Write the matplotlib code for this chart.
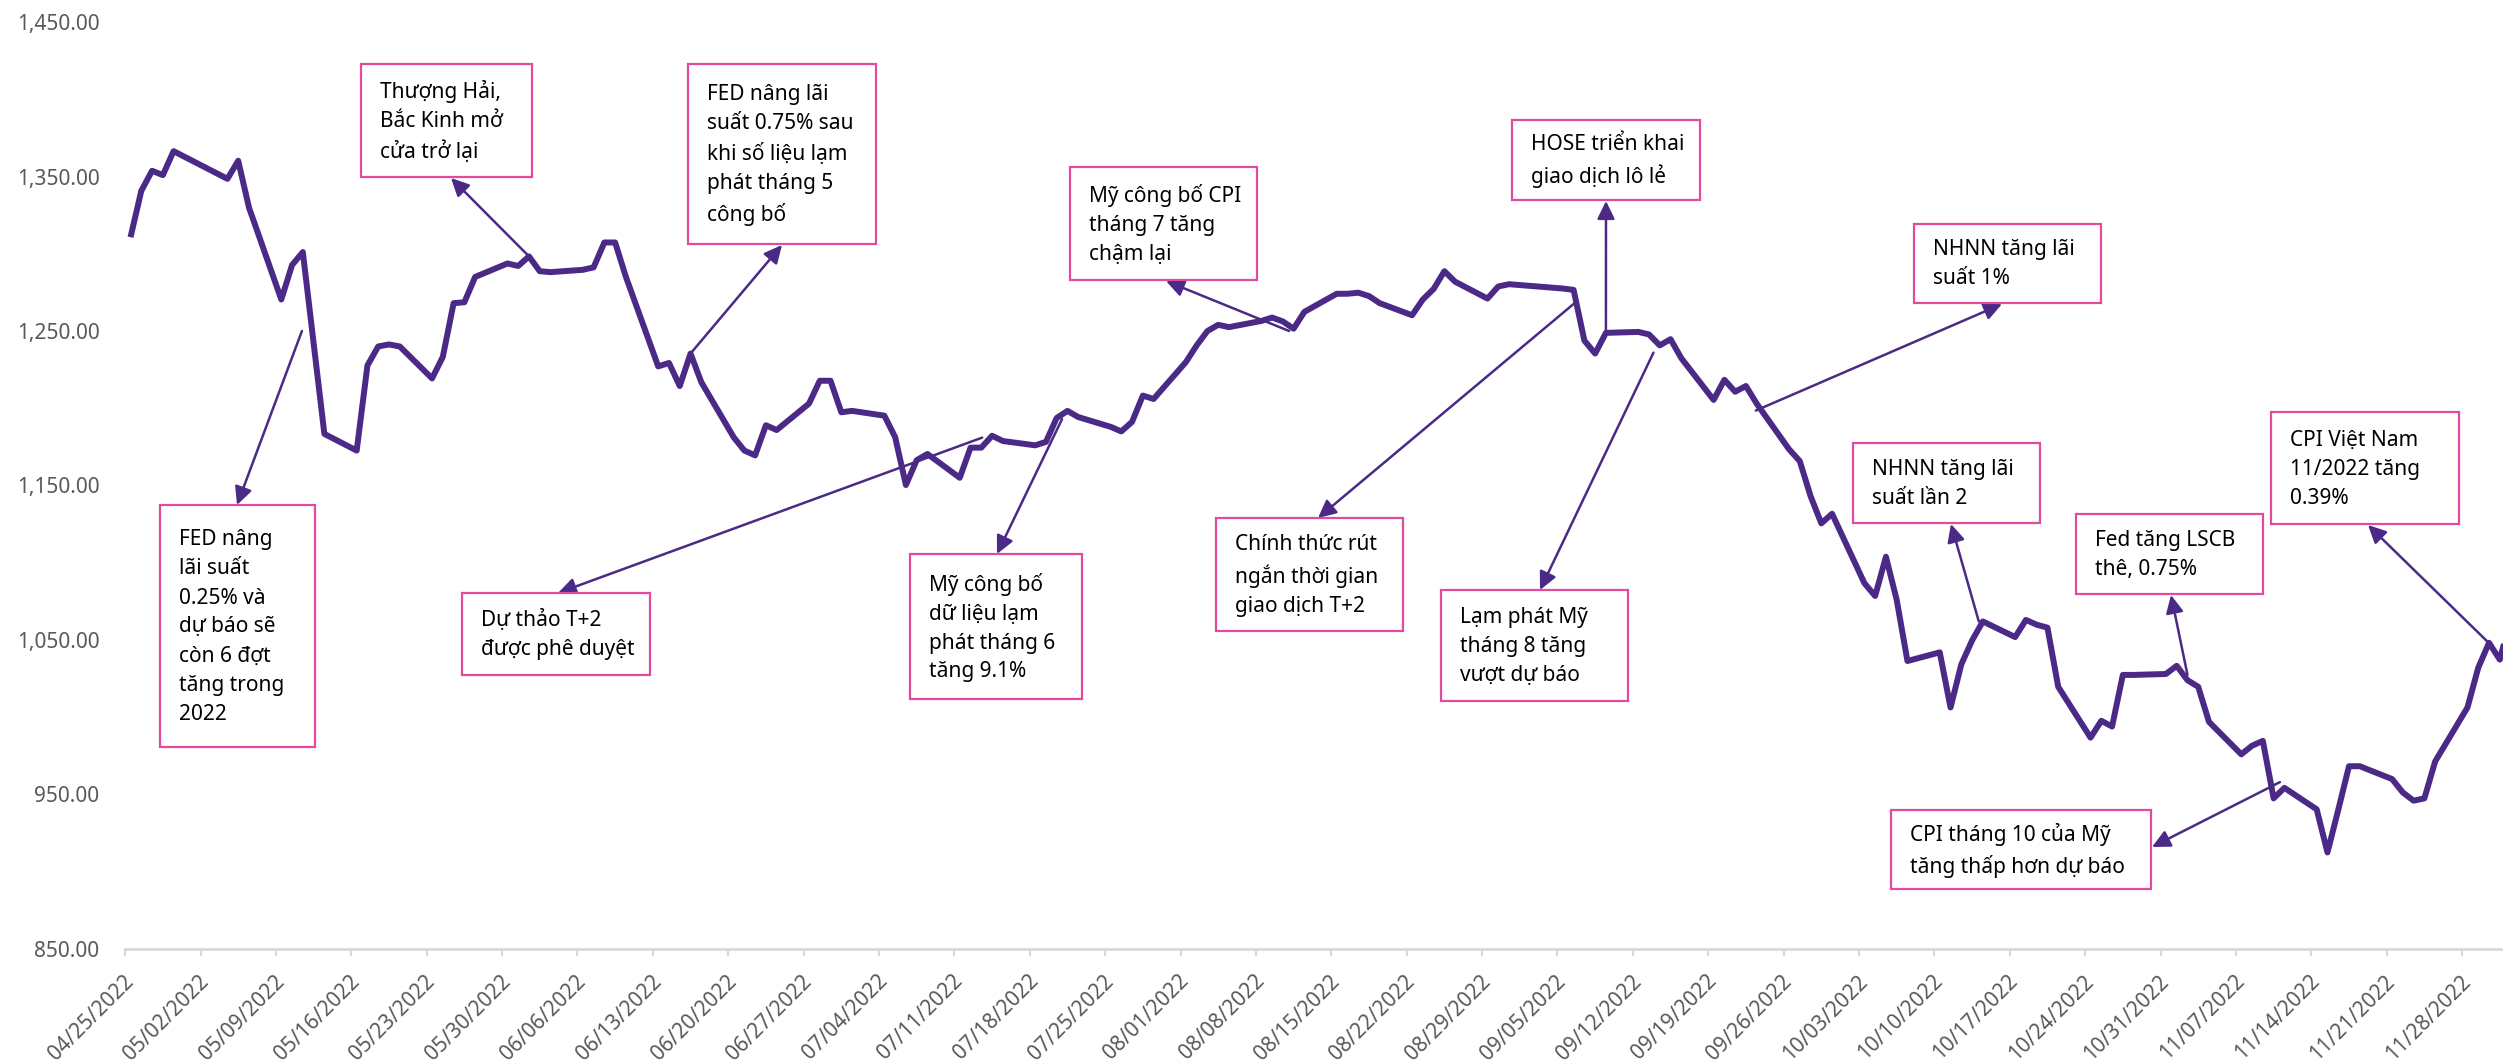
import matplotlib
matplotlib.use('Agg')
import matplotlib.pyplot as plt
import matplotlib.dates as mdates
import matplotlib.patches as mpatches
import matplotlib.ticker as mticker
import pandas as pd

plt.rcParams['font.family'] = ['Noto Sans', 'DejaVu Sans']

# ---------------- data ----------------
trade_dates = [
    "2022-04-25", "2022-04-26", "2022-04-27", "2022-04-28", "2022-04-29",
    "2022-05-04", "2022-05-05", "2022-05-06",
    "2022-05-09", "2022-05-10", "2022-05-11", "2022-05-12", "2022-05-13",
    "2022-05-16", "2022-05-17", "2022-05-18", "2022-05-19", "2022-05-20",
    "2022-05-23", "2022-05-24", "2022-05-25", "2022-05-26", "2022-05-27",
    "2022-05-30", "2022-05-31", "2022-06-01", "2022-06-02", "2022-06-03",
    "2022-06-06", "2022-06-07", "2022-06-08", "2022-06-09", "2022-06-10",
    "2022-06-13", "2022-06-14", "2022-06-15", "2022-06-16", "2022-06-17",
    "2022-06-20", "2022-06-21", "2022-06-22", "2022-06-23", "2022-06-24",
    "2022-06-27", "2022-06-28", "2022-06-29", "2022-06-30", "2022-07-01",
    "2022-07-04", "2022-07-05", "2022-07-06", "2022-07-07", "2022-07-08",
    "2022-07-11", "2022-07-12", "2022-07-13", "2022-07-14", "2022-07-15",
    "2022-07-18", "2022-07-19", "2022-07-20", "2022-07-21", "2022-07-22",
    "2022-07-25", "2022-07-26", "2022-07-27", "2022-07-28", "2022-07-29",
    "2022-08-01", "2022-08-02", "2022-08-03", "2022-08-04", "2022-08-05",
    "2022-08-08", "2022-08-09", "2022-08-10", "2022-08-11", "2022-08-12",
    "2022-08-15", "2022-08-16", "2022-08-17", "2022-08-18", "2022-08-19",
    "2022-08-22", "2022-08-23", "2022-08-24", "2022-08-25", "2022-08-26",
    "2022-08-29", "2022-08-30", "2022-08-31",
    "2022-09-05", "2022-09-06", "2022-09-07", "2022-09-08", "2022-09-09",
    "2022-09-12", "2022-09-13", "2022-09-14", "2022-09-15", "2022-09-16",
    "2022-09-19", "2022-09-20", "2022-09-21", "2022-09-22", "2022-09-23",
    "2022-09-26", "2022-09-27", "2022-09-28", "2022-09-29", "2022-09-30",
    "2022-10-03", "2022-10-04", "2022-10-05", "2022-10-06", "2022-10-07",
    "2022-10-10", "2022-10-11", "2022-10-12", "2022-10-13", "2022-10-14",
    "2022-10-17", "2022-10-18", "2022-10-19", "2022-10-20", "2022-10-21",
    "2022-10-24", "2022-10-25", "2022-10-26", "2022-10-27", "2022-10-28",
    "2022-10-31", "2022-11-01", "2022-11-02", "2022-11-03", "2022-11-04",
    "2022-11-07", "2022-11-08", "2022-11-09", "2022-11-10", "2022-11-11",
    "2022-11-14", "2022-11-15", "2022-11-16", "2022-11-17", "2022-11-18",
    "2022-11-21", "2022-11-22", "2022-11-23", "2022-11-24", "2022-11-25",
    "2022-11-28", "2022-11-29", "2022-11-30", "2022-12-01", "2022-12-02",
]
vnindex = [
    1310.7, 1340.7, 1353.7, 1350.9, 1366.4,
    1348.5, 1360.2, 1329.9,
    1270.4, 1292.7, 1301.1, 1242.0, 1183.4,
    1172.6, 1227.7, 1240.0, 1241.3, 1240.0,
    1219.3, 1233.3, 1268.0, 1268.6, 1285.0,
    1293.7, 1292.1, 1298.3, 1288.7, 1288.1,
    1289.6, 1291.2, 1307.3, 1307.3, 1285.0,
    1227.1, 1229.3, 1214.4, 1235.4, 1216.9,
    1181.3, 1172.6, 1169.5, 1189.0, 1185.9,
    1203.0, 1217.8, 1217.8, 1197.4, 1198.3,
    1195.2, 1181.3, 1150.3, 1166.4, 1170.4,
    1155.0, 1174.5, 1174.5, 1182.2, 1178.8,
    1176.0, 1178.2, 1193.7, 1198.3, 1194.3,
    1188.0, 1185.0, 1191.2, 1208.2, 1206.0,
    1229.9, 1240.7, 1250.0, 1254.0, 1252.5,
    1256.5, 1258.7, 1256.2, 1251.5, 1262.4,
    1274.1, 1274.1, 1274.8, 1272.6, 1268.0,
    1260.2, 1270.4, 1277.2, 1288.7, 1281.9,
    1271.0, 1278.8, 1280.3,
    1277.5, 1276.6, 1243.8, 1235.4, 1248.8,
    1249.4, 1247.8, 1240.7, 1244.7, 1232.4,
    1205.4, 1218.4, 1210.7, 1214.4, 1203.0,
    1173.5, 1165.8, 1143.2, 1125.5, 1131.7,
    1086.8, 1078.5, 1103.9, 1076.0, 1036.4,
    1042.0, 1006.3, 1034.2, 1049.7, 1062.0,
    1051.9, 1063.0, 1059.9, 1058.0, 1019.7,
    986.8, 997.7, 994.0, 1027.4, 1027.4,
    1028.0, 1033.3, 1024.0, 1019.7, 997.0,
    976.0, 981.6, 984.7, 947.5, 954.3,
    940.4, 912.5, 940.0, 968.3, 968.3,
    960.0, 951.3, 946.0, 947.5, 971.4,
    1006.3, 1032.0, 1048.2, 1037.3, 1063.0,
]

tick_labels = [
    "04/25/2022", "05/02/2022", "05/09/2022", "05/16/2022", "05/23/2022",
    "05/30/2022", "06/06/2022", "06/13/2022", "06/20/2022", "06/27/2022",
    "07/04/2022", "07/11/2022", "07/18/2022", "07/25/2022", "08/01/2022",
    "08/08/2022", "08/15/2022", "08/22/2022", "08/29/2022", "09/05/2022",
    "09/12/2022", "09/19/2022", "09/26/2022", "10/03/2022", "10/10/2022",
    "10/17/2022", "10/24/2022", "10/31/2022", "11/07/2022", "11/14/2022",
    "11/21/2022", "11/28/2022",
]
y_ticks = [850, 950, 1050, 1150, 1250, 1350, 1450]

# annotation texts and the point on the chart each arrow starts from
note_texts = [
    "Thượng Hải,\nBắc Kinh mở\ncửa trở lại",
    "FED nâng lãi\nsuất 0.75% sau\nkhi số liệu lạm\nphát tháng 5\ncông bố",
    "FED nâng\nlãi suất\n0.25% và\ndự báo sẽ\ncòn 6 đợt\ntăng trong\n2022",
    "Dự thảo T+2\nđược phê duyệt",
    "Mỹ công bố\ndữ liệu lạm\nphát tháng 6\ntăng 9.1%",
    "Mỹ công bố CPI\ntháng 7 tăng\nchậm lại",
    "Chính thức rút\nngắn thời gian\ngiao dịch T+2",
    "HOSE triển khai\ngiao dịch lô lẻ",
    "Lạm phát Mỹ\ntháng 8 tăng\nvượt dự báo",
    "NHNN tăng lãi\nsuất 1%",
    "NHNN tăng lãi\nsuất lần 2",
    "Fed tăng LSCB\nthê, 0.75%",
    "CPI Việt Nam\n11/2022 tăng\n0.39%",
    "CPI tháng 10 của Mỹ\ntăng thấp hơn dự báo",
]
note_dates = [
    "2022-06-01", "2022-06-16", "2022-05-10 22:00", "2022-07-13 02:00",
    "2022-07-20 12:00", "2022-08-10 14:00", "2022-09-06", "2022-09-09",
    "2022-09-13 10:00", "2022-09-22 22:00", "2022-10-13 15:00", "2022-11-02",
    "2022-11-30", "2022-11-10 14:00",
]
note_values = [1298.3, 1235.4, 1250.0, 1181.0, 1193.0, 1250.0, 1267.5, 1250.0,
               1236.0, 1198.5, 1062.0, 1027.5, 1048.0, 958.0]

# layout (figure pixels): box (x0, y0, x1, y1) and arrow head point
note_boxes = [
    (361, 64, 532, 177), (688, 64, 876, 244), (160, 505, 315, 747),
    (462, 593, 650, 675), (910, 554, 1082, 699), (1070, 167, 1257, 280),
    (1216, 518, 1403, 631), (1512, 120, 1700, 200), (1441, 590, 1628, 701),
    (1914, 224, 2101, 303), (1853, 443, 2040, 523), (2076, 514, 2263, 594),
    (2271, 412, 2459, 524), (1891, 810, 2151, 889),
]
note_heads = [
    (451, 178), (782, 245), (237, 505), (558, 593), (997, 554), (1166, 281),
    (1318, 518), (1606, 201), (1540, 590), (2002, 304), (1951, 524),
    (2171, 595), (2368, 525), (2152, 847),
]

# ---------------- styling ----------------
LINE = '#4A2A86'
PINK = '#E24A9E'
AXIS = '#D9D9D9'
LABEL = '#595959'

W, H = 2503, 1061
fig = plt.figure(figsize=(W / 100, H / 100), dpi=100)
fig.patch.set_facecolor('white')

ax_l, ax_r, ax_t, ax_b = 124.6, 2503, 22, 949
ax = fig.add_axes([ax_l / W, 1 - ax_b / H, (ax_r - ax_l) / W, (ax_b - ax_t) / H])


def fpx(x, y):
    return (x / W, 1 - y / H)


x = pd.to_datetime(trade_dates)
ax.plot(x, vnindex, color=LINE, lw=4.3, solid_joinstyle='round',
        solid_capstyle='butt', zorder=3, clip_on=True)

start = pd.Timestamp(trade_dates[0])
ax.set_xlim(mdates.date2num(start - pd.Timedelta(days=0.55)),
            mdates.date2num(start + pd.Timedelta(days=220.3)))
ax.set_ylim(y_ticks[0], y_ticks[-1])

ax.set_yticks(y_ticks)
ax.set_yticklabels([f"{v:,.2f}" for v in y_ticks])
ax.tick_params(axis='y', length=0, pad=18, labelsize=15, labelcolor=LABEL)

tick_dates = pd.to_datetime(tick_labels, format="%m/%d/%Y")
ax.set_xticks(mdates.date2num(tick_dates))
ax.set_xticklabels(tick_labels)
ax.set_xticks(mdates.date2num(tick_dates - pd.Timedelta(days=0.5)), minor=True)
ax.tick_params(axis='x', which='major', length=0, pad=21, labelsize=15,
               labelcolor=LABEL)
ax.tick_params(axis='x', which='minor', length=5, width=1.5, color=AXIS)
for lab in ax.get_xticklabels():
    lab.set_rotation(45)
    lab.set_ha('right')
    lab.set_va('center')
    lab.set_rotation_mode('anchor')

for s in ['top', 'right', 'left']:
    ax.spines[s].set_visible(False)
ax.spines['bottom'].set_color(AXIS)
ax.spines['bottom'].set_linewidth(2)
ax.grid(False)

# ---------------- annotations ----------------
for text, d, v, box, head in zip(note_texts, note_dates, note_values,
                                  note_boxes, note_heads):
    x0, y0, x1, y1 = box
    rect = mpatches.Rectangle(fpx(x0, y1), (x1 - x0) / W, (y1 - y0) / H,
                              transform=fig.transFigure, facecolor='white',
                              edgecolor=PINK, lw=1.6, zorder=5)
    fig.add_artist(rect)
    fig.text((x0 + 19) / W, 1 - ((y0 + y1) / 2 + 1) / H, text,
             ha='left', va='center', fontsize=15, color='black',
             linespacing=1.5, zorder=6)
    ax.annotate('', xy=fpx(*head), xycoords='figure fraction',
                xytext=(mdates.date2num(pd.Timestamp(d)), v), textcoords='data',
                arrowprops=dict(arrowstyle='-|>,head_length=0.45,head_width=0.22',
                                mutation_scale=24, color=LINE, lw=1.8,
                                shrinkA=0, shrinkB=0),
                annotation_clip=False, zorder=4)

fig.savefig('out.png', dpi=100, facecolor='white')
